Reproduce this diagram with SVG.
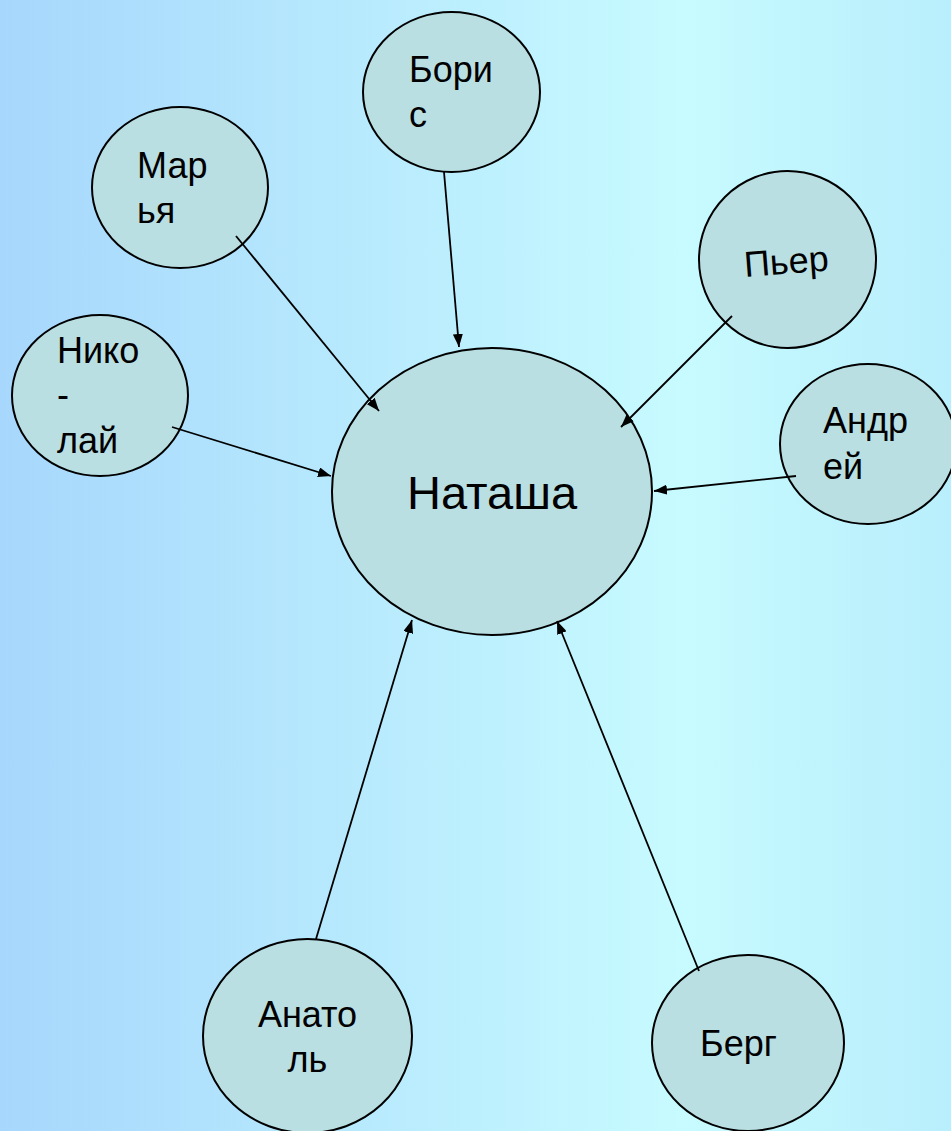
<svg xmlns="http://www.w3.org/2000/svg" width="951" height="1131" viewBox="0 0 951 1131">
<defs>
<linearGradient id="bg" x1="0" y1="0" x2="1" y2="0">
<stop offset="0" stop-color="#a7d7fc"/>
<stop offset="0.72" stop-color="#c7fbff"/>
<stop offset="1" stop-color="#b9eefc"/>
</linearGradient>
<marker id="arr" markerUnits="userSpaceOnUse" markerWidth="14" markerHeight="10" refX="13" refY="5" orient="auto">
<path d="M0,0 L13,5 L0,10 Z" fill="#000"/>
</marker>
<style>
.n{fill:#b9dfe3;stroke:#000;stroke-width:2}
.t{font-family:"Liberation Sans",Arial,sans-serif;font-size:36px;fill:#000}
.big{font-size:47px}
.c line{stroke:#000;stroke-width:1.8;marker-end:url(#arr)}
</style>
</defs>
<rect width="951" height="1131" fill="url(#bg)"/>
<g id="natasha"><ellipse class="n" cx="492" cy="491.5" rx="160" ry="143.5"/><text class="t big" x="492" y="509" text-anchor="middle">Наташа</text></g>
<g id="boris"><ellipse class="n" cx="451.5" cy="92" rx="88.5" ry="80"/><text class="t" x="409" y="82">Бори</text><text class="t" x="409" y="127">с</text></g>
<g id="marya"><ellipse class="n" cx="180" cy="187.5" rx="88" ry="80.5"/><text class="t" x="137" y="178">Мар</text><text class="t" x="137" y="223">ья</text></g>
<g id="nikolay"><ellipse class="n" cx="100" cy="395.5" rx="88" ry="80.5"/><text class="t" x="57" y="363">Нико</text><text class="t" x="57" y="407">-</text><text class="t" x="57" y="453">лай</text></g>
<g id="pier"><ellipse class="n" cx="787.5" cy="259.5" rx="88.5" ry="88.5"/><text class="t" x="745" y="277" transform="rotate(-4.5 745 277)">Пьер</text></g>
<g id="andrey"><ellipse class="n" cx="868" cy="444" rx="88" ry="80"/><text class="t" x="823" y="433">Андр</text><text class="t" x="823" y="479">ей</text></g>
<g id="anatol"><ellipse class="n" cx="307.5" cy="1036" rx="104.5" ry="97"/><text class="t" x="307.5" y="1027" text-anchor="middle">Анато</text><text class="t" x="307.5" y="1072" text-anchor="middle">ль</text></g>
<g id="berg"><ellipse class="n" cx="748" cy="1043" rx="96" ry="88"/><text class="t" x="700" y="1056">Берг</text></g>
<g id="connectors" class="c">
<line x1="444" y1="172" x2="459" y2="347"/>
<line x1="236" y1="236" x2="379" y2="411"/>
<line x1="172" y1="427" x2="331" y2="476"/>
<line x1="732" y1="316" x2="621" y2="427"/>
<line x1="796" y1="476" x2="654" y2="491"/>
<line x1="316" y1="939" x2="412" y2="620"/>
<line x1="699" y1="971" x2="557" y2="621"/>
</g>
</svg>
